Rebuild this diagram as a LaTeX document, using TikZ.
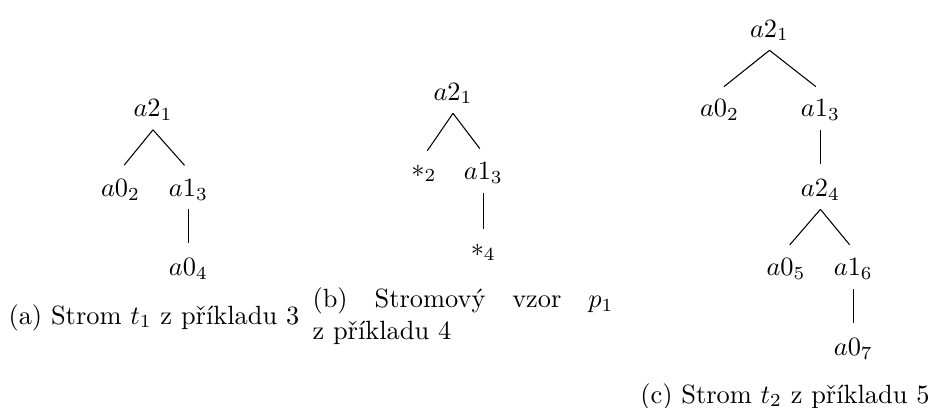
\documentclass[tikz,border=0pt]{standalone}
\usepackage{fontspec}

\begin{document}
\begin{tikzpicture}[x=0.3788pt, y=-0.3788pt,
  capt/.style={inner sep=0pt},
  tedge/.style={shorten >=2.2pt}]

\useasboundingbox (0,0) rectangle (933,407);

% strom t1
\node (ar) at (153,110) {$a2_1$};
\node (a2) at (120.5,189.5) {$a0_2$};
\node (a3) at (188.4,189.5) {$a1_3$};
\node (a4) at (188.4,269) {$a0_4$};

\draw [tedge] (ar.south) -- (a2.north);
\draw [tedge] (ar.south) -- (a3.north);
\draw [tedge] (a3.south) -- (a4.north);

\node [capt, anchor=base west] (acap) at (8,324) {(a) Strom $t_1$ z~příkladu 3};


% vzor p1
\node (br) at (453,93.5) {$a2_1$};
\node (b2) at (424,173) {$*_2$};
\node (b3) at (483.3,173) {$a1_3$};
\node (b4) at (483.3,252.5) {$*_4$};

\draw [tedge] (br.south) -- (b2.north);
\draw [tedge] (br.south) -- (b3.north);
\draw [tedge] (b3.south) -- (b4.north);

\node [capt, anchor=north west, text width=114pt, align=justify] (bcap)
 at (312,287) {\tolerance=10000 (b) Stromový vzor $p_1$ z~příkladu 4\par};


% strom t2
\node (cr) at (769.5,30.5) {$a2_1$};
\node (c2) at (719.5,110) {$a0_2$};
\node (c3) at (820.4,110) {$a1_3$};
\node (c4) at (820.4,189.5) {$a2_4$};
\node (c5) at (786,269) {$a0_5$};
\node (c6) at (853.3,269) {$a1_6$};
\node (c7) at (853.3,348.5) {$a0_7$};

\draw [tedge] (cr.south) -- (c2.north);
\draw [tedge] (cr.south) -- (c3.north);
\draw [tedge] (c3.south) -- (c4.north);
\draw [tedge] (c4.south) -- (c5.north);
\draw [tedge] (c4.south) -- (c6.north);
\draw [tedge] (c6.south) -- (c7.north);

\node [capt, anchor=base east] (ccap) at (930,403) {(c) Strom $t_2$ z~příkladu 5};

\end{tikzpicture}
\end{document}
